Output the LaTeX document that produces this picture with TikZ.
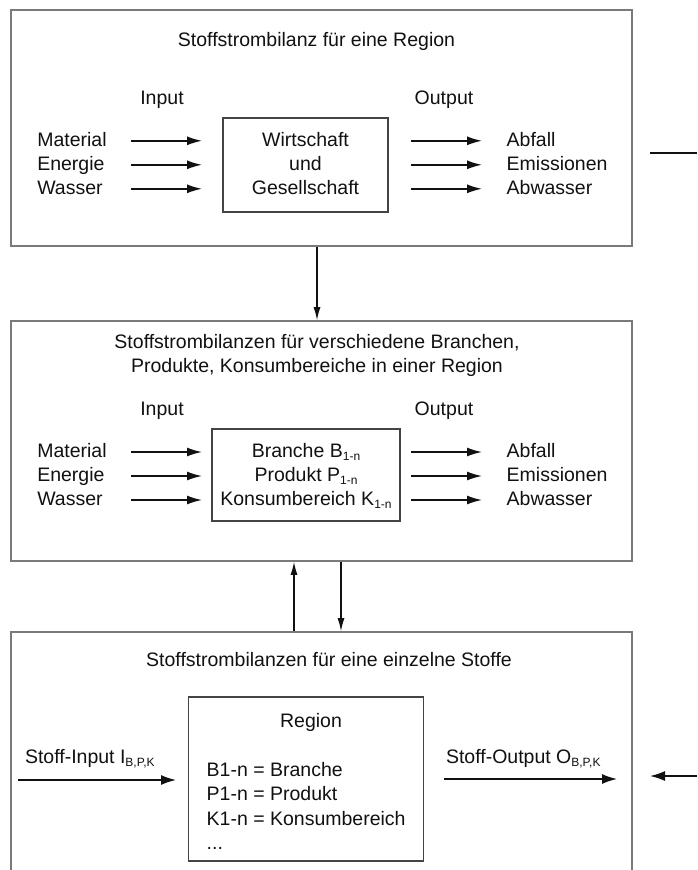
\documentclass[tikz,border=0pt]{standalone}
\usepackage{fontspec}
\setmainfont[Ligatures=NoCommon]{Liberation Sans}
\usetikzlibrary{arrows.meta}
\definecolor{textc}{HTML}{111111}
\definecolor{outerc}{HTML}{7A7A7A}
\definecolor{innerc}{HTML}{444444}
\definecolor{arrc}{HTML}{111111}
\newcommand\mysub[1]{\raisebox{-3.3pt}{\fontsize{12}{12}\selectfont #1}}
\begin{document}
\begin{tikzpicture}[x=1pt,y=-1pt,
  txt/.style={inner sep=0pt, outer sep=0pt, font=\fontsize{19.5}{24}\selectfont, text=textc},
  outerbox/.style={draw=outerc, line width=1.6pt, minimum width=621pt, inner sep=0pt},
  innerbox/.style={draw=innerc, line width=1.5pt, inner sep=0pt},
  arr/.style={draw=arrc, line width=1.5pt, -{Latex[length=15pt,width=9pt]}},
  varr/.style={draw=arrc, line width=1.3pt, -{Latex[length=13pt,width=7pt]}},
  longarr/.style={draw=arrc, line width=1.5pt, -{Latex[length=15pt,width=10pt]}},
  plain/.style={draw=arrc, line width=1.5pt}
]
\useasboundingbox[fill=white] (0,0) rectangle (697,870);

% ================= top box
\node[outerbox, minimum height=236pt] (top) at (321.5,128) {};
\node[txt, anchor=base] (t1) at (316.5,46.5) {Stoffstrombilanz für eine Region};
\node[txt, anchor=base] (tin) at (162,104.5) {Input};
\node[txt, anchor=base] (tout) at (444,104.5) {Output};
\node[txt, anchor=base west] (tm) at (37.3,146.5) {Material};
\node[txt, anchor=base west] (te) at (37.3,170.5) {Energie};
\node[txt, anchor=base west] (tw) at (37.3,194.5) {Wasser};
\node[txt, anchor=base west] (ta) at (506.7,146.5) {Abfall};
\node[txt, anchor=base west] (tem) at (506.7,170.5) {Emissionen};
\node[txt, anchor=base west] (tab) at (506.7,194.5) {Abwasser};
\node[innerbox, minimum width=165pt, minimum height=94pt] (wg) at (305.5,165) {};
\node[txt, anchor=base] (wg1) at (305.5,146.5) {Wirtschaft};
\node[txt, anchor=base] (wg2) at (305.5,170.5) {und};
\node[txt, anchor=base] (wg3) at (305.5,194.5) {Gesellschaft};
\foreach \n/\y in {1/140.8,2/164.8,3/188.8}{
  \coordinate (tia\n) at (131,\y);
  \coordinate (tib\n) at (202,\y);
  \coordinate (toa\n) at (411,\y);
  \coordinate (tob\n) at (482,\y);
  \draw[arr] (tia\n) -- (tib\n);
  \draw[arr] (toa\n) -- (tob\n);
}
\coordinate (rl1) at (650,153);
\coordinate (rl2) at (697,153);
\draw[plain] (rl1) -- (rl2);

% ================= middle box
\node[outerbox, minimum height=240pt] (mid) at (321.5,441) {};
\node[txt, anchor=base] (m1) at (317,348.3) {Stoffstrombilanzen für verschiedene Branchen,};
\node[txt, anchor=base] (m2) at (317,372) {Produkte, Konsumbereiche in einer Region};
\node[txt, anchor=base] (min) at (162,415) {Input};
\node[txt, anchor=base] (mout) at (444,415) {Output};
\node[txt, anchor=base west] (mm) at (37.3,457.5) {Material};
\node[txt, anchor=base west] (me) at (37.3,481.5) {Energie};
\node[txt, anchor=base west] (mw) at (37.3,505.5) {Wasser};
\node[txt, anchor=base west] (ma) at (506.7,457.5) {Abfall};
\node[txt, anchor=base west] (mem) at (506.7,481.5) {Emissionen};
\node[txt, anchor=base west] (mab) at (506.7,505.5) {Abwasser};
\node[innerbox, minimum width=188pt, minimum height=92pt] (bp) at (306,475) {};
\node[txt, anchor=base] (bp1) at (306,457.5) {Branche B\mysub{1-n}};
\node[txt, anchor=base] (bp2) at (306,481.5) {Produkt P\mysub{1-n}};
\node[txt, anchor=base] (bp3) at (306,505.5) {Konsumbereich K\mysub{1-n}};
\foreach \n/\y in {1/452,2/476,3/500}{
  \coordinate (mia\n) at (131,\y);
  \coordinate (mib\n) at (202,\y);
  \coordinate (moa\n) at (411,\y);
  \coordinate (mob\n) at (482,\y);
  \draw[arr] (mia\n) -- (mib\n);
  \draw[arr] (moa\n) -- (mob\n);
}

% ================= bottom box
\node[outerbox, minimum height=268pt] (bot) at (321.5,766) {};
\node[txt, anchor=base] (b1) at (329,666.7) {Stoffstrombilanzen für eine einzelne Stoffe};
\node[innerbox, minimum width=235pt, minimum height=164pt] (reg) at (305.8,779) {};
\node[txt, anchor=base] (r0) at (311,727.7) {Region};
\node[txt, anchor=base west] (r1) at (206.7,776) {B1-n = Branche};
\node[txt, anchor=base west] (r2) at (206.7,800.5) {P1-n = Produkt};
\node[txt, anchor=base west] (r3) at (206.7,825) {K1-n = Konsumbereich};
\node[txt, anchor=base west] (r4) at (206.7,849) {...};
\node[txt, anchor=base west] (si) at (25,763.3) {Stoff-Input I\mysub{B,P,K}};
\node[txt, anchor=base west] (so) at (446,763.3) {Stoff-Output O\mysub{B,P,K}};
\coordinate (sia) at (18,780);
\coordinate (sib) at (176,780);
\coordinate (soa) at (444,779);
\coordinate (sob) at (617,779);
\draw[longarr] (sia) -- (sib);
\draw[longarr] (soa) -- (sob);
\coordinate (rr1) at (697,776);
\coordinate (rr2) at (650,776);
\draw[longarr] (rr1) -- (rr2);

% ================= vertical connectors
\draw[varr] ([xshift=-4.5pt]top.south) -- ([xshift=-4.5pt]mid.north);
\draw[varr] ([xshift=-27.5pt]bot.north) -- ([xshift=-27.5pt]mid.south);
\draw[varr] ([xshift=19.5pt]mid.south) -- ([xshift=19.5pt]bot.north);
\end{tikzpicture}
\end{document}
